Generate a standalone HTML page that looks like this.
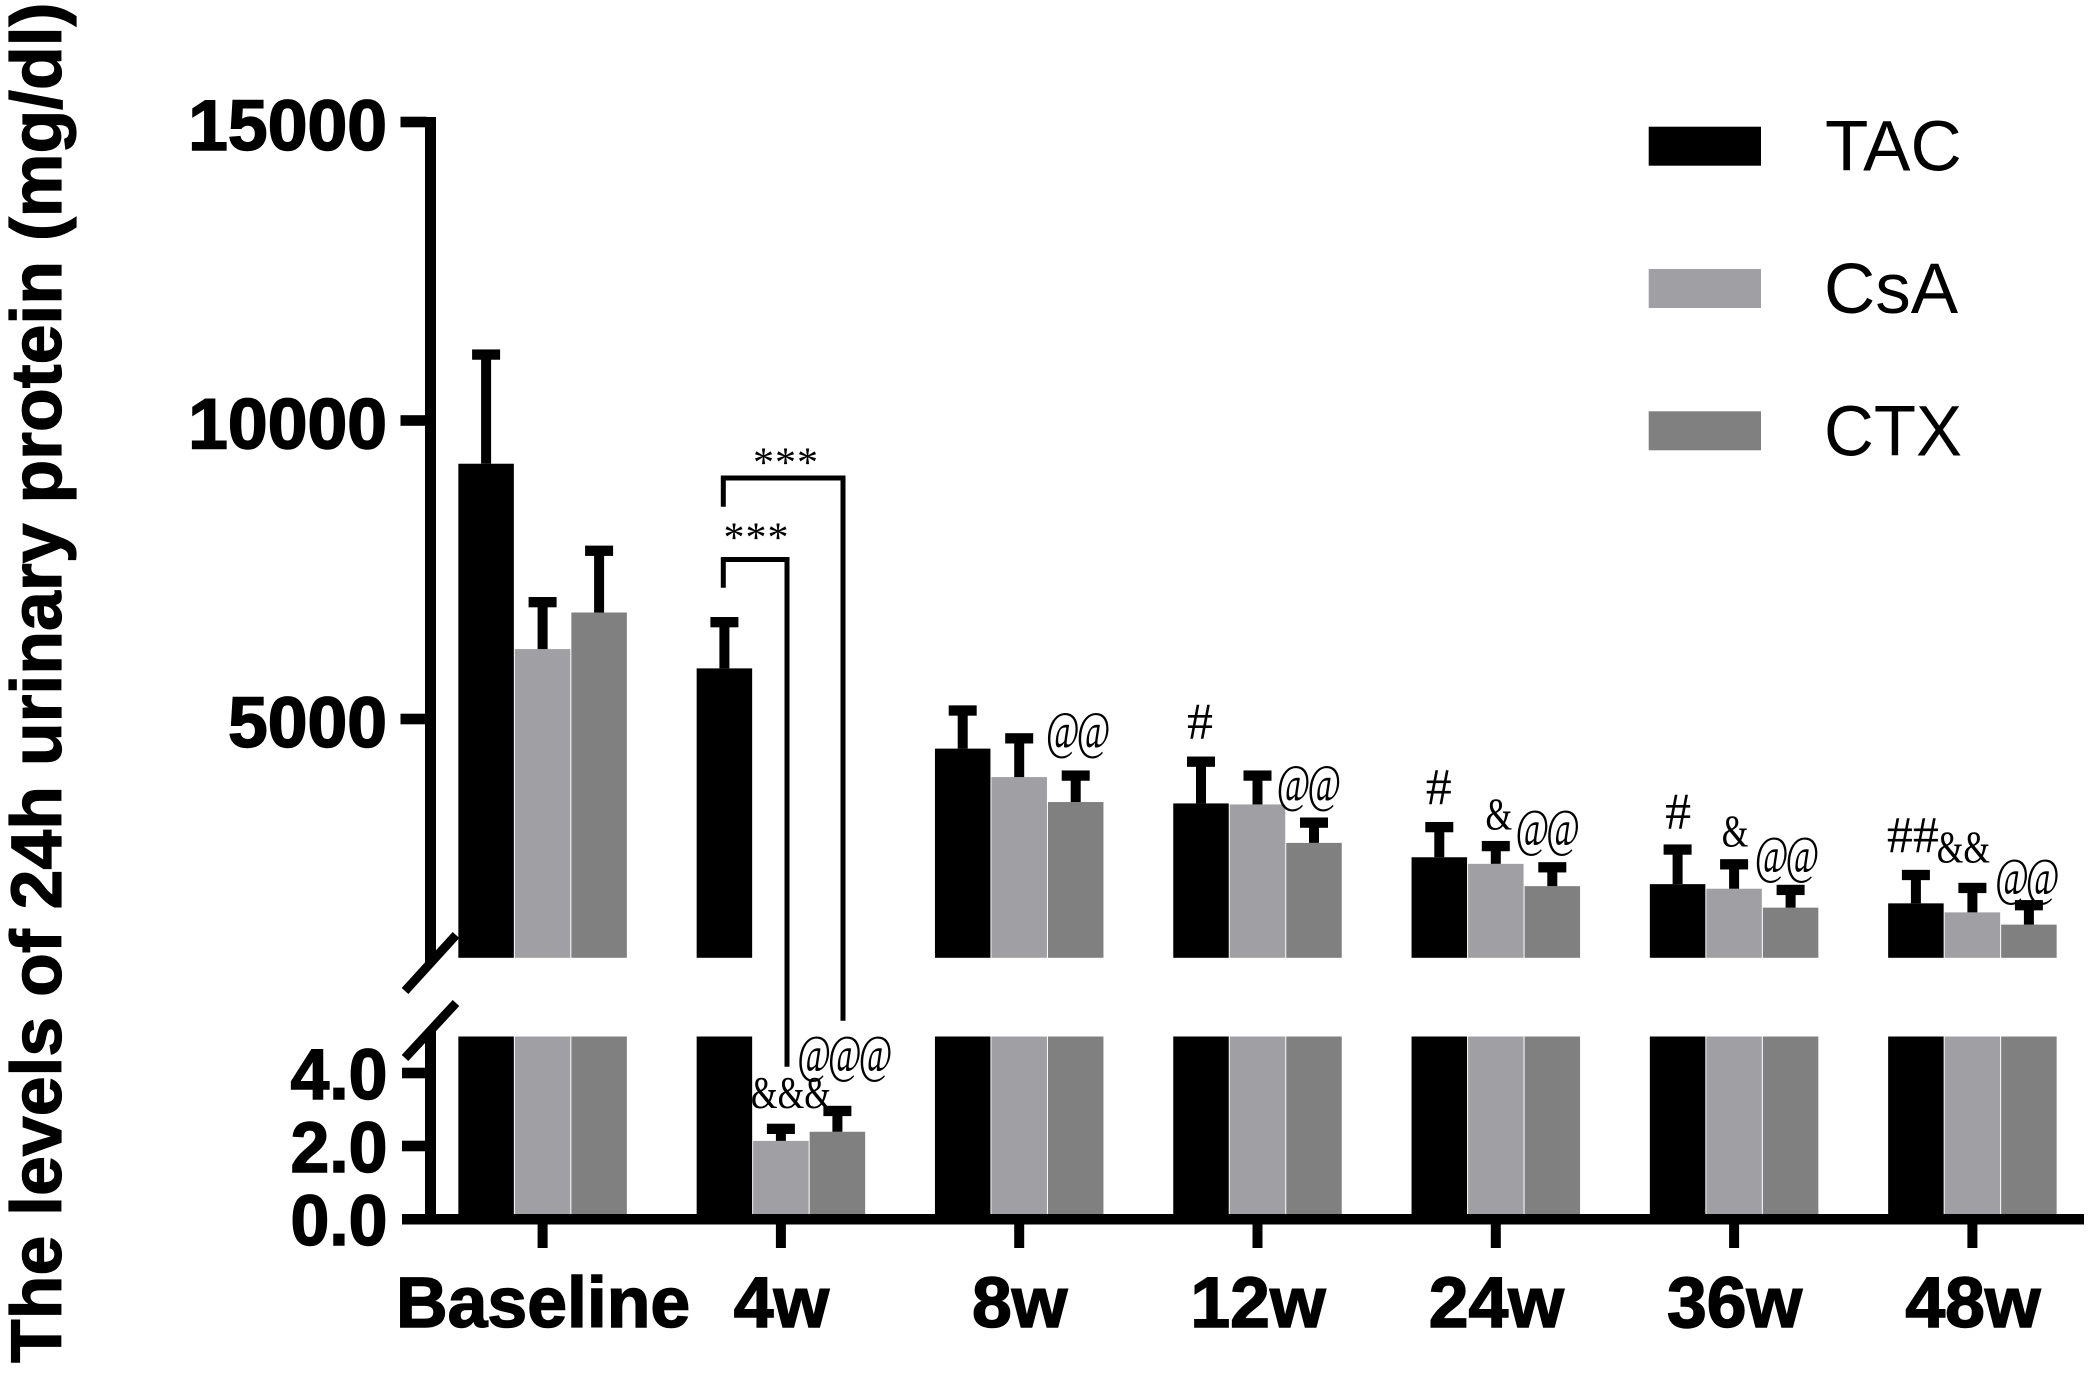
<!DOCTYPE html>
<html lang="en">
<head>
<meta charset="utf-8">
<title>24h urinary protein by treatment</title>
<style>
  html, body { margin: 0; padding: 0; background: #fff; }
  svg { display: block; }
  text { font-family: "Liberation Sans", sans-serif; fill: #000; }
  .tick-label { font-weight: 700; font-size: 71.5px; stroke: #000; stroke-width: 1.5px; }
  .legend-label { font-size: 71px; }
  .sig { font-family: "Liberation Serif", serif; }
</style>
</head>
<body>
<svg id="chart" xmlns="http://www.w3.org/2000/svg" width="2091" height="1373" viewBox="0 0 2091 1373">
  <rect width="2091" height="1373" fill="#fff"/>
  <text transform="translate(61 1363) rotate(-90)" font-size="71.6" font-weight="700" stroke="#000" stroke-width="1.2">The levels of 24h urinary protein (mg/dl)</text>
  <g>
    <rect x="1648.7" y="126.7" width="112.3" height="39" fill="#000"/>
    <text class="legend-label" x="1825" y="170.7">TAC</text>
    <rect x="1648.7" y="269" width="112.3" height="39" fill="#a0a0a4"/>
    <text class="legend-label" x="1824" y="313">CsA</text>
    <rect x="1648.7" y="411.3" width="112.3" height="39" fill="#808080"/>
    <text class="legend-label" x="1824" y="455.7" textLength="138" lengthAdjust="spacingAndGlyphs">CTX</text>
  </g>
</svg>
<script>
const categories = ["Baseline", "4w", "8w", "12w", "24w", "36w", "48w"];
const seriesNames = ["TAC", "CsA", "CTX"];
const tacValues = [9276, 5848, 4504, 3586, 2684, 2234, 1912];
const tacErrorTops = [11104, 6622, 5142, 4285, 3189, 2813, 2387];
const csaValues = [6171, 2.14, 4027, 3569, 2574, 2157, 1761];
const csaErrorTops = [6957, 2.47, 4676, 4052, 2871, 2566, 2170];
const ctxValues = [6784, 2.39, 3609, 2925, 2200, 1840, 1556];
const ctxErrorTops = [7818, 2.96, 4052, 3264, 2516, 2137, 1881];
const upperTicks = [5000, 10000, 15000];
const lowerTicks = [0, 2, 4];
const lowerTickLabels = ["0.0", "2.0", "4.0"];
const sigTexts = ["@@", "#", "@@", "#", "&", "@@", "#", "&", "@@", "##", "&&", "@@", "&&&", "@@@"];
const sigGroups = [2, 3, 3, 4, 4, 4, 5, 5, 5, 6, 6, 6, 1, 1];
const sigSeries = [2, 0, 2, 0, 1, 2, 0, 1, 2, 0, 1, 2, 1, 2];

/* ---- layout & scales ---- */
const svg = document.getElementById('chart');
const NS = 'http://www.w3.org/2000/svg';
const colors = ['#000000', '#a0a0a4', '#808080'];
const valueSets = [tacValues, csaValues, ctxValues];
const errorSets = [tacErrorTops, csaErrorTops, ctxErrorTops];
const LOWER_MAX = 5, UPPER_MIN = 1000;

function xGroup(i) { return 542.6 + i * 238.3; }
function xBar(i, s) { return xGroup(i) + (s - 1) * 56.5; }
function yLower(v) { return 1219 - v * 36.5; }
function yUpper(v) { return 719 + (5000 - v) * 0.0597; }
function yValue(v) { return v <= LOWER_MAX ? yLower(v) : yUpper(v); }

function mk(tag, attrs, text) {
  const el = document.createElementNS(NS, tag);
  for (const k in attrs) el.setAttribute(k, attrs[k]);
  if (text !== undefined) el.textContent = text;
  svg.appendChild(el);
  return el;
}

/* ---- bars and error bars ---- */
const BAR_W = 55.5, CAP_W = 28, CAP_H = 10.3, STEM_W = 10;
categories.forEach(function (cat, i) {
  seriesNames.forEach(function (name, s) {
    const v = valueSets[s][i], e = errorSets[s][i], cx = xBar(i, s);
    const lowerTop = yLower(Math.min(v, LOWER_MAX));
    const lowerBar = mk('rect', { x: cx - BAR_W / 2, y: lowerTop, width: BAR_W, height: yLower(0) - lowerTop, fill: colors[s] });
    
    
    if (v > LOWER_MAX) {
      const upperBar = mk('rect', { x: cx - BAR_W / 2, y: yUpper(v), width: BAR_W, height: yUpper(UPPER_MIN) - yUpper(v), fill: colors[s] });
      
      
    }
    const yTop = yValue(v), yErr = yValue(e);
    const stem = mk('rect', { x: cx - STEM_W / 2, y: yErr, width: STEM_W, height: yTop - yErr, fill: '#000' });
    
    
    const cap = mk('rect', { x: cx - CAP_W / 2, y: yErr - CAP_H / 2, width: CAP_W, height: CAP_H, fill: '#000' });
    
    
  });
});

/* ---- axes ---- */
const upperAxis = mk('rect', { x: 425, y: yUpper(15000) - 5, width: 11, height: 963 - yUpper(15000) + 5, fill: '#000' });


const lowerAxis = mk('rect', { x: 425, y: 1031, width: 11, height: 193, fill: '#000' });


const xAxis = mk('rect', { x: 402, y: yLower(0) - 5, width: 1682, height: 10.5, fill: '#000' });



const breakTop = mk('line', { x1: 405, y1: 991, x2: 456, y2: 935, stroke: '#000', 'stroke-width': 9 });


const breakBottom = mk('line', { x1: 405, y1: 1058, x2: 456, y2: 1003, stroke: '#000', 'stroke-width': 9 });



upperTicks.forEach(function (t) {
  const y = yUpper(t);
  const mark = mk('rect', { x: 400.5, y: y - 5.3, width: 26, height: 10.6, fill: '#000' });
  
  
  const label = mk('text', { x: 387, y: y + 28, 'text-anchor': 'end', class: 'tick-label' }, String(t));
  
  
});
lowerTicks.forEach(function (t, k) {
  const y = yLower(t);
  if (t !== 0) {
    const mark = mk('rect', { x: 402, y: y - 5.3, width: 24, height: 10.6, fill: '#000' });
    
    
  }
  const label = mk('text', { x: 387.5, y: y + 26, 'text-anchor': 'end', class: 'tick-label', textLength: 97, lengthAdjust: 'spacingAndGlyphs' }, lowerTickLabels[k]);
  
  
});
categories.forEach(function (cat, i) {
  const mark = mk('rect', { x: xGroup(i) - 5, y: 1224, width: 10, height: 24, fill: '#000' });
  
  
  const label = mk('text', { x: xGroup(i) + 0.5, y: 1327, 'text-anchor': 'middle', class: 'tick-label' }, cat);
  
  
});

/* ---- 4w comparison brackets ---- */
const bracketInner = mk('path', { d: 'M723.3 587.7V559.5H787V1066.7', fill: 'none', stroke: '#000', 'stroke-width': 5 });


const bracketOuter = mk('path', { d: 'M723.3 506.7V478H843V1020.7', fill: 'none', stroke: '#000', 'stroke-width': 5 });


const starsOuter = mk('text', { x: 786, y: 476.5, 'text-anchor': 'middle', class: 'sig', 'font-size': 42, 'letter-spacing': 1 }, '***');


const starsInner = mk('text', { x: 756.5, y: 551.5, 'text-anchor': 'middle', class: 'sig', 'font-size': 42, 'letter-spacing': 1 }, '***');



/* ---- significance symbols: placed above their error cap, with a per-label nudge ---- */
const sigNudgeX = [1, -1, -6.5, -0.5, 3, -6, 0.5, 1, -5, -3, -9, -3, 10, 6];
const sigGap = [21, 18, 15, 18, 11, 15, 16, 12, 11, 18, 20, 4, 15, 33];
sigTexts.forEach(function (txt, k) {
  const i = sigGroups[k], s = sigSeries[k];
  const cx = xBar(i, s) + sigNudgeX[k];
  const bottom = yValue(errorSets[s][i]) - CAP_H / 2 - sigGap[k];
  const ch = txt[0];
  let size = 52, sx = 1, ls = 0, base = bottom;
  if (ch === '@') { size = 53; sx = 0.69; ls = -4.3; base = bottom - 1; }
  if (ch === '&') { size = 45.7; sx = 0.75; base = bottom - 0.5; }
  const label = mk('text', {
    transform: 'translate(' + cx + ' ' + base + ') scale(' + sx + ' 1)',
    'text-anchor': 'middle', class: 'sig', 'font-size': size, 'letter-spacing': ls
  }, txt);
  
  
});
</script>
</body>
</html>
